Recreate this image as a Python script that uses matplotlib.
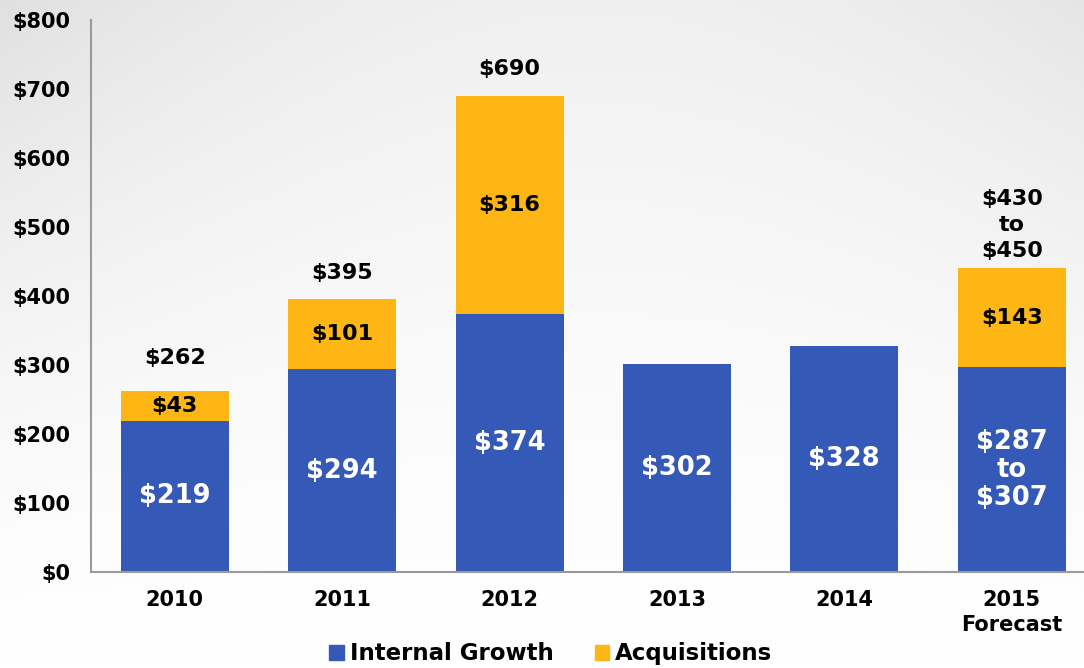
import numpy as np
import matplotlib
matplotlib.use("Agg")
import matplotlib.pyplot as plt
from matplotlib.patches import Patch

years = ["2010", "2011", "2012", "2013", "2014", "2015\nForecast"]
internal = [219, 294, 374, 302, 328, 297]
acquisitions = [43, 101, 316, 0, 0, 143]
internal_labels = ["$219", "$294", "$374", "$302", "$328", "$287\nto\n$307"]
acq_labels = ["$43", "$101", "$316", "", "", "$143"]
total_labels = ["$262", "$395", "$690", "", "", "$430\nto\n$450"]
yticks = [0, 100, 200, 300, 400, 500, 600, 700, 800]

blue = "#3559b7"
yellow = "#fdb614"
# label offsets above bars (points)
total_offsets = [17, 12, 12, 0, 0, 5.5]

plt.rcParams["font.family"] = "DejaVu Sans"
plt.rcParams["font.weight"] = "bold"

fig = plt.figure(figsize=(10.84, 6.68), dpi=100)

# background gradient, darker towards the top corners
bg = fig.add_axes([0, 0, 1, 1], zorder=-10)
yy, xx = np.mgrid[0:1:200j, 0:1:300j]
shade = 1 - (1 - yy) ** 1.5 * (0.06 + 0.06 * ((xx - 0.55) / 0.55) ** 2)
bg.imshow(np.dstack([shade] * 3), aspect="auto", extent=[0, 1, 0, 1], origin="lower",
          vmin=0, vmax=1)
bg.set_ylim(1, 0)
bg.axis("off")

ax = fig.add_axes([0.084, 0.1437, 0.916, 0.8263])
ax.patch.set_alpha(0)
x = np.arange(len(years))
w = 0.645
ax.bar(x, internal, w, color=blue, label="Internal Growth", zorder=2)
ax.bar(x, acquisitions, w, bottom=internal, color=yellow, label="Acquisitions", zorder=2)

for i in range(len(years)):
    ax.text(x[i], internal[i] / 2, internal_labels[i], ha="center", va="center",
            color="white", fontsize=18.5, fontweight="bold", linespacing=1.1)
    if acq_labels[i]:
        ax.text(x[i], internal[i] + acquisitions[i] / 2, acq_labels[i], ha="center",
                va="center", color="black", fontsize=16, fontweight="bold")
    if total_labels[i]:
        ax.annotate(total_labels[i], (x[i], internal[i] + acquisitions[i]),
                    xytext=(0, total_offsets[i]), textcoords="offset points", ha="center",
                    va="bottom", fontsize=16, fontweight="bold", linespacing=1.38)

ax.set_xlim(-0.5, 5.432)
ax.set_ylim(0, 800)
ax.set_yticks(yticks)
ax.set_yticklabels([f"${v}" for v in yticks], fontsize=15, fontweight="bold")
ax.set_xticks(x)
ax.set_xticklabels(years, fontsize=15, fontweight="bold", linespacing=1.3)
ax.tick_params(axis="y", length=0, pad=15)
ax.tick_params(axis="x", length=0, pad=13)
for s in ["top", "right"]:
    ax.spines[s].set_visible(False)
for s in ["left", "bottom"]:
    ax.spines[s].set_color("#9a9a9a")
    ax.spines[s].set_linewidth(1.5)

handles = [Patch(color=blue, label="Internal Growth"), Patch(color=yellow, label="Acquisitions")]
fig.legend(handles=handles, loc="center", bbox_to_anchor=(0.508, 0.021), ncol=2,
           frameon=False, prop={"size": 16.5, "weight": "bold"}, handlelength=0.65,
           handleheight=0.65, handletextpad=0.25, columnspacing=1.8)

fig.savefig("out.png", dpi=100)
